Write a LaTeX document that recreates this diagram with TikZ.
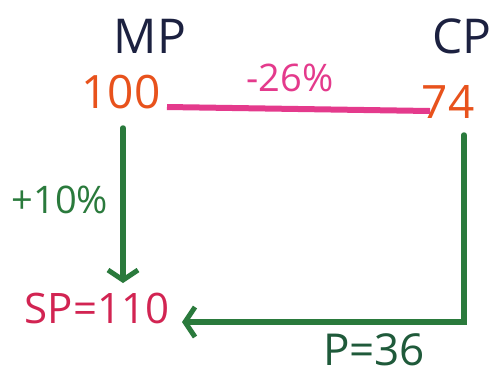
\documentclass[tikz,border=0pt]{standalone}
\usepackage{fontspec}
\setmainfont{Open Sans}
\usetikzlibrary{arrows.meta}
\definecolor{ink}{HTML}{1C2140}
\definecolor{orng}{HTML}{E8521C}
\definecolor{mag}{HTML}{E43A8C}
\definecolor{grn}{HTML}{2A7A3C}
\definecolor{dgrn}{HTML}{1F5A3A}
\definecolor{crim}{HTML}{D22452}
\tikzset{
  lbl/.style={inner sep=0pt},
  hd/.style={lbl, text=ink, font=\fontsize{48}{50}\selectfont},
  val/.style={lbl, text=orng, font=\fontsize{46}{48}\selectfont},
  conn/.style={grn, line width=5.5pt, line cap=round},
  arr/.style={conn, -{Straight Barb[length=10pt,width=30pt,line width=5pt]}},
}
\begin{document}
\begin{tikzpicture}[x=1pt,y=-1pt]
\useasboundingbox[fill=white] (0,0) rectangle (494,376);
\node[hd] (mp) at (150,36) {MP};
\node[hd] (cp) at (462,36) {CP};
\node[val] (a) at (121,92) {100};
\node[val] (b) at (448,102) {74};
\node[lbl,text=mag,font=\fontsize{38}{40}\selectfont] (d) at (290,78) {-26\%};
\node[lbl,text=grn,font=\fontsize{38}{40}\selectfont] (p) at (60,200) {+10\%};
\node[lbl,text=crim,font=\fontsize{42}{44}\selectfont] (sp) at (97,308) {SP=110};
\node[lbl,text=dgrn,font=\fontsize{44}{46}\selectfont] (pr) at (374,350) {P=36};
\coordinate (bl) at (167,107);
\coordinate (br) at (430,111);
\draw[mag,line width=6pt] (bl) -- (br);
\coordinate (vt) at (123,128);
\coordinate (vb) at (123,283);
\draw[arr] (vt) -- (vb);
\coordinate (rt) at (464,135);
\coordinate (corner) at (464,322);
\coordinate (le) at (182,322);
\draw[arr] (rt) -- (corner) -- (le);
\end{tikzpicture}
\end{document}
